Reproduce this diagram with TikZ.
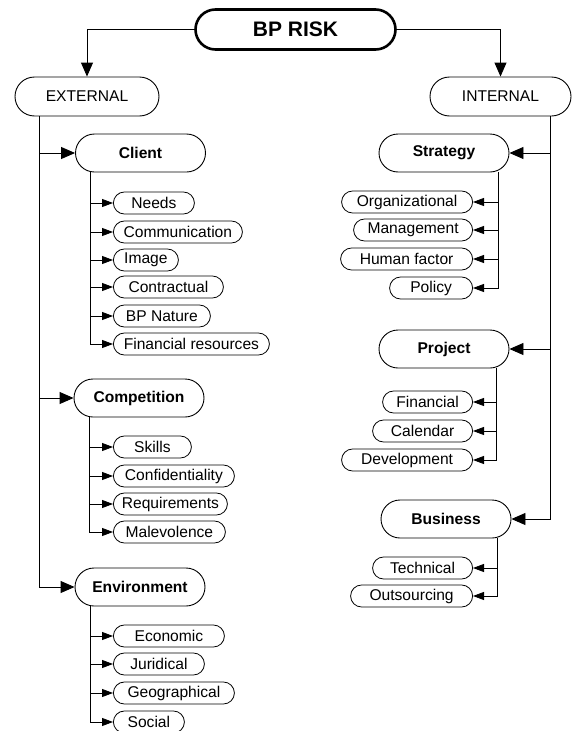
\documentclass[tikz,border=0pt]{standalone}
\usepackage{fontspec}
\setmainfont{Liberation Sans}
\usetikzlibrary{arrows.meta}

\begin{document}
\begin{tikzpicture}[x=1pt,y=-1pt]
	\tikzstyle{root}=[draw,line width=2.6pt,rounded corners=20pt,minimum width=200pt,minimum height=40pt,inner sep=0pt,font=\fontsize{21}{24}\selectfont\bfseries]
	\tikzstyle{side}=[draw,line width=0.9pt,rounded corners=19.5pt,minimum height=39pt,inner sep=0pt,font=\fontsize{15.6}{18}\selectfont]
	\tikzstyle{risk}=[draw,line width=0.9pt,rounded corners=19pt,minimum width=130pt,minimum height=38pt,inner sep=0pt,font=\fontsize{15.6}{18}\selectfont\bfseries]
	\tikzstyle{factor}=[draw,line width=0.8pt,rounded corners=11pt,minimum height=22pt,inner sep=0pt,font=\fontsize{15.6}{18}\selectfont]
	\tikzstyle{bigedge}=[draw,line width=0.9pt,-{Triangle[length=14pt,width=12pt]}]
	\tikzstyle{edge}=[draw,line width=0.8pt,-{Triangle[length=11pt,width=8pt]}]
	\useasboundingbox (0,0) rectangle (572,731);
	\begin{scope}
		% top
		\node [root] (bp) at (295.5,29.5) {BP RISK};
		\node [side,minimum width=144pt] (ext) at (87,96.5) {EXTERNAL};
		\node [side,minimum width=141pt] (int) at (500.5,96.5) {INTERNAL};
		\path[bigedge] (bp.west) -| (ext);
		\path[bigedge] (bp.east) -| (int);
		% external branch
		\node [risk] (client) at (140.5,153) {Client};
		\node [risk] (compet) at (139,398) {Competition};
		\node [risk] (environ) at (140,587) {Environment};
		\coordinate (extfoot) at ([xshift=-48pt]ext.south);
		\path[bigedge] (extfoot) |- (client);
		\path[bigedge] (extfoot) |- (compet);
		\path[bigedge] (extfoot) |- (environ);
		% client factors
		\node [factor,anchor=west,minimum width=81pt] (needs) at (113,203) {Needs};
		\node [factor,anchor=west,minimum width=129pt] (commun) at (113,232) {Communication};
		\node [factor,anchor=west,minimum width=65pt] (image) at (113,260) {Image};
		\node [factor,anchor=west,minimum width=110pt] (contract) at (113,287) {Contractual};
		\node [factor,anchor=west,minimum width=97pt] (nature) at (113,316) {BP Nature};
		\node [factor,anchor=west,minimum width=156pt] (finres) at (113,344) {Financial resources};
		\coordinate (clientfoot) at ([xshift=15pt]client.south west);
		\path[edge] (clientfoot) |- (needs);
		\path[edge] (clientfoot) |- (commun);
		\path[edge] (clientfoot) |- (image);
		\path[edge] (clientfoot) |- (contract);
		\path[edge] (clientfoot) |- (nature);
		\path[edge] (clientfoot) |- (finres);
		% competition factors
		\node [factor,anchor=west,minimum width=78pt] (skills) at (113,447) {Skills};
		\node [factor,anchor=west,minimum width=121pt] (confid) at (113,476) {Confidentiality};
		\node [factor,anchor=west,minimum width=114pt] (requir) at (113,504) {Requirements};
		\node [factor,anchor=west,minimum width=112pt] (malev) at (113,532) {Malevolence};
		\coordinate (competfoot) at ([xshift=16pt]compet.south west);
		\path[edge] (competfoot) |- (skills);
		\path[edge] (competfoot) |- (confid);
		\path[edge] (competfoot) |- (requir);
		\path[edge] (competfoot) |- (malev);
		% environment factors
		\node [factor,anchor=west,minimum width=111pt] (econ) at (113,636) {Economic};
		\node [factor,anchor=west,minimum width=91pt] (jurid) at (113,664) {Juridical};
		\node [factor,anchor=west,minimum width=121pt] (geo) at (113,693) {Geographical};
		\node [factor,anchor=west,minimum width=71pt] (social) at (113,722) {Social};
		\coordinate (environfoot) at ([xshift=16pt]environ.south west);
		\path[edge] (environfoot) |- (econ);
		\path[edge] (environfoot) |- (jurid);
		\path[edge] (environfoot) |- (geo);
		\path[edge] (environfoot) |- (social);
		% internal branch
		\node [risk] (strat) at (444,153) {Strategy};
		\node [risk] (project) at (444,349) {Project};
		\node [risk] (business) at (446,519) {Business};
		\coordinate (intfoot) at ([xshift=49.5pt]int.south);
		\path[bigedge] (intfoot) |- (strat);
		\path[bigedge] (intfoot) |- (project);
		\path[bigedge] (intfoot) |- (business);
		% strategy factors
		\node [factor,anchor=east,minimum width=131pt] (organiz) at (473,202) {Organizational};
		\node [factor,anchor=east,minimum width=119pt] (manag) at (473,230) {Management};
		\node [factor,anchor=east,minimum width=132pt] (human) at (473,259) {Human factor};
		\node [factor,anchor=east,minimum width=83pt] (policy) at (473,288) {Policy};
		\coordinate (stratfoot) at ([xshift=-11pt]strat.south east);
		\path[edge] (stratfoot) |- (organiz);
		\path[edge] (stratfoot) |- (manag);
		\path[edge] (stratfoot) |- (human);
		\path[edge] (stratfoot) |- (policy);
		% project factors
		\node [factor,anchor=east,minimum width=90pt] (financ) at (473,402) {Financial};
		\node [factor,anchor=east,minimum width=100pt] (calend) at (473,431) {Calendar};
		\node [factor,anchor=east,minimum width=131pt] (develop) at (473,460) {Development};
		\coordinate (projectfoot) at ([xshift=-13pt]project.south east);
		\path[edge] (projectfoot) |- (financ);
		\path[edge] (projectfoot) |- (calend);
		\path[edge] (projectfoot) |- (develop);
		% business factors
		\node [factor,anchor=east,minimum width=100pt] (techn) at (473,568) {Technical};
		\node [factor,anchor=east,minimum width=122pt] (outsrc) at (473,596) {Outsourcing};
		\coordinate (businessfoot) at ([xshift=-14pt]business.south east);
		\path[edge] (businessfoot) |- (techn);
		\path[edge] (businessfoot) |- (outsrc);
	\end{scope}
\end{tikzpicture}
\end{document}
